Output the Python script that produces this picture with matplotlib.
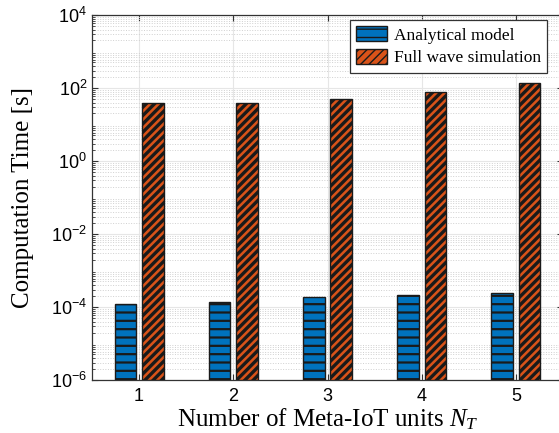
import numpy as np
import matplotlib.pyplot as plt
from matplotlib.ticker import LogLocator, NullFormatter

units = [1, 2, 3, 4, 5]
analytical_s = [1.19e-4, 1.40e-4, 1.88e-4, 2.13e-4, 2.42e-4]
fullwave_s = [38.8, 39.8, 51.0, 76.0, 140.0]
series_labels = ["Analytical model", "Full wave simulation"]

plt.rcParams["mathtext.fontset"] = "custom"
plt.rcParams["mathtext.rm"] = "Liberation Serif"
plt.rcParams["mathtext.it"] = "Liberation Serif:italic"

fig = plt.figure(figsize=(5.59, 4.33), dpi=100)
ax = fig.add_axes([0.1646, 0.1224, 0.8426, 0.843])

x = np.array(units, dtype=float)
w = 0.23
off = 0.145
with plt.rc_context({"hatch.linewidth": 1.6}):
    ax.bar(x - off, analytical_s, w, bottom=1e-6, color="#0072BD", edgecolor="#1a1a1a",
           hatch="--", linewidth=1.0, label=series_labels[0], zorder=3)
with plt.rc_context({"hatch.linewidth": 2.4}):
    ax.bar(x + off, fullwave_s, w, bottom=1e-6, color="#D95319", edgecolor="#1a1a1a",
           hatch="////", linewidth=1.0, label=series_labels[1], zorder=3)

ax.set_yscale("log")
ax.set_ylim(1e-6, 1e4)
ax.set_xlim(0.5, 5.5)
ax.set_xticks(units)
ax.set_yticks([1e-6, 1e-4, 1e-2, 1e0, 1e2, 1e4])
ax.yaxis.set_minor_locator(LogLocator(base=10, subs=np.arange(2, 10), numticks=20))
ax.yaxis.set_minor_formatter(NullFormatter())

ax.grid(True, which="major", color="#e6e6e6", linewidth=0.8, zorder=0)
ax.grid(True, which="minor", axis="y", color="#d0d0d0", linestyle=":", linewidth=0.7, zorder=0)
ax.set_axisbelow(True)

ax.tick_params(which="both", direction="in", top=True, right=True, color="#333333")
ax.tick_params(which="major", length=4, labelsize=13)
ax.tick_params(which="minor", length=2)
ax.tick_params(axis="x", which="minor", bottom=False, top=False)
ax.tick_params(axis="x", pad=6)
for lbl in ax.get_xticklabels() + ax.get_yticklabels():
    lbl.set_fontfamily("Liberation Sans")
for s in ax.spines.values():
    s.set_color("#333333")
    s.set_linewidth(0.9)

ax.set_ylabel("Computation Time [s]", fontfamily="Liberation Serif", fontsize=18,
              labelpad=12)
ax.set_xlabel("Number of Meta-IoT units $N_T$", fontfamily="Liberation Serif", fontsize=18,
              labelpad=1)

leg = ax.legend(loc="upper right", bbox_to_anchor=(0.967, 0.987), fancybox=False,
                framealpha=1, edgecolor="#333333", prop={"family": "Liberation Serif", "size": 12.5},
                handlelength=1.8, handleheight=1.0, borderpad=0.35, labelspacing=0.3,
                handletextpad=0.4, borderaxespad=0)
leg.get_frame().set_linewidth(0.9)

fig.savefig("out.png", dpi=100)
